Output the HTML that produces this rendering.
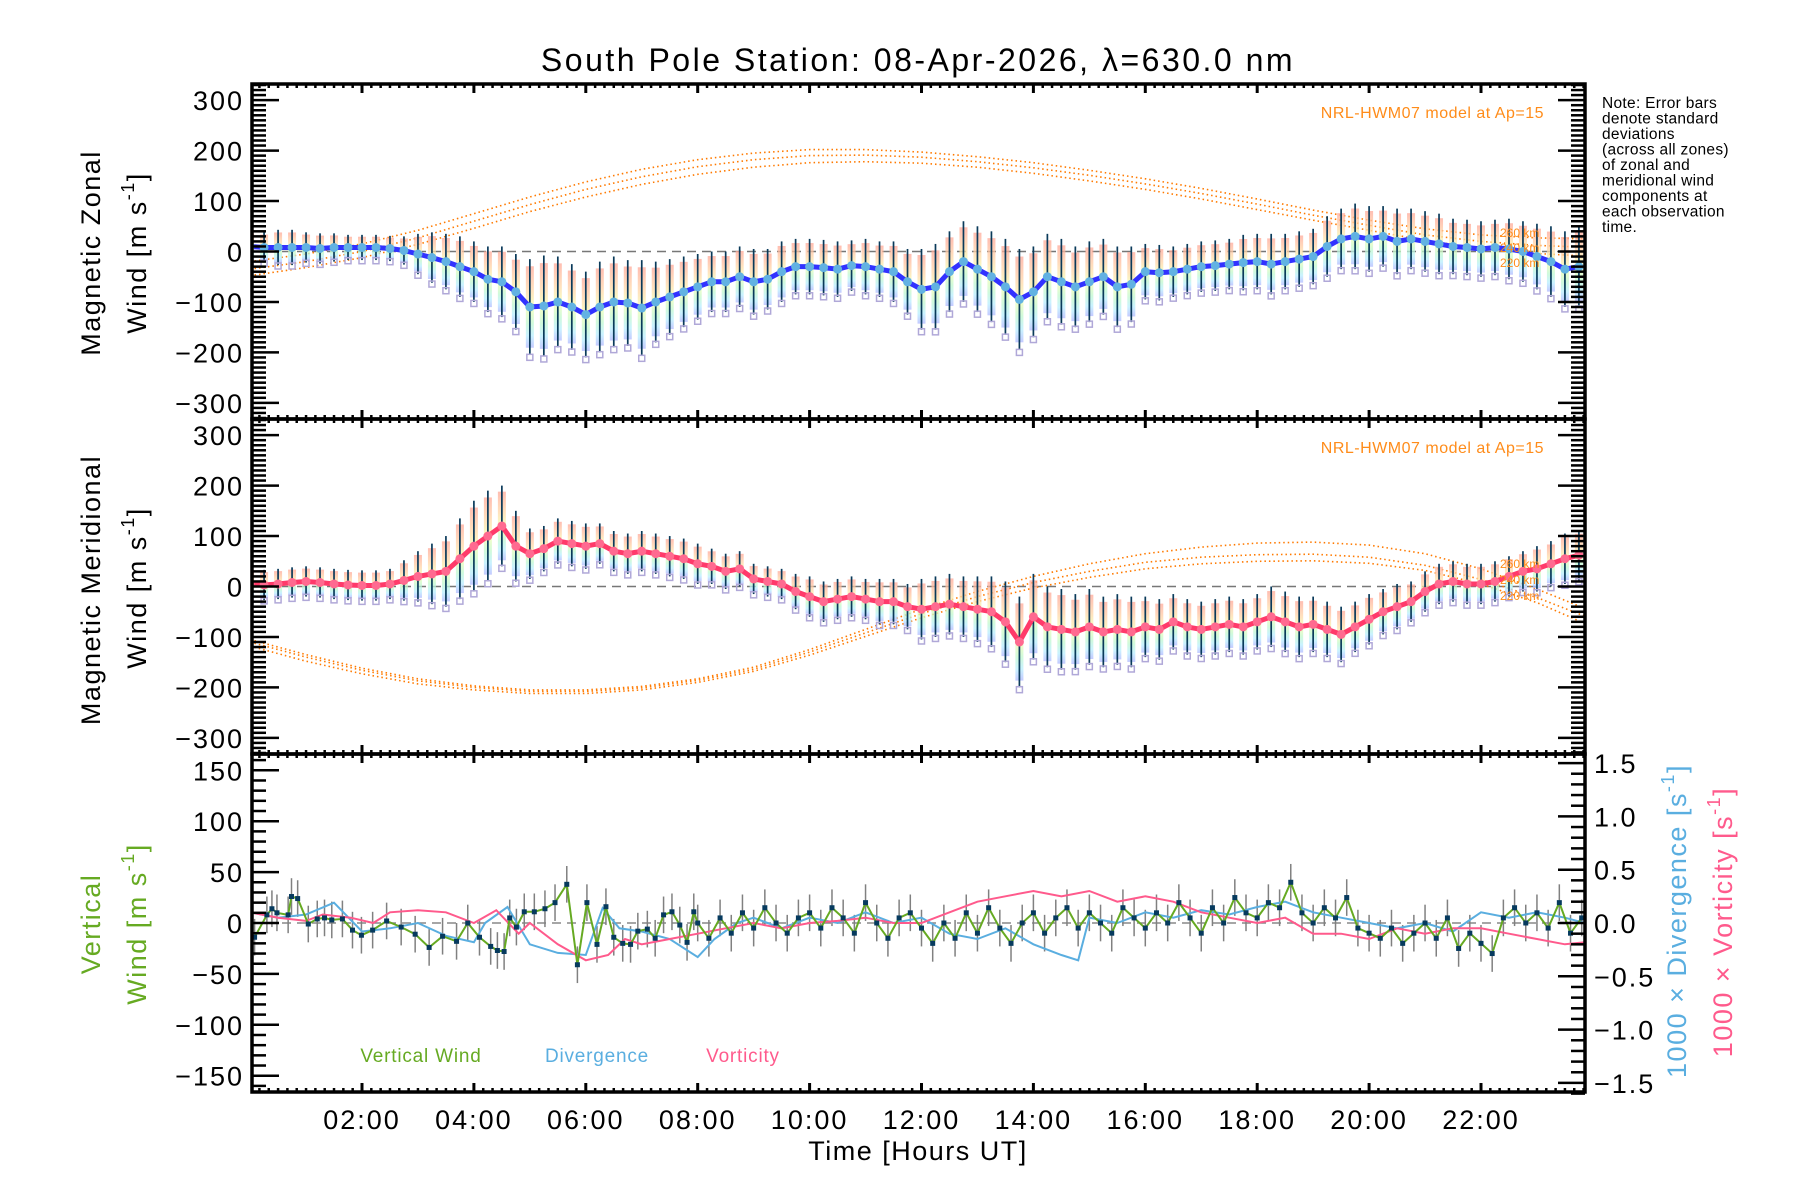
<!DOCTYPE html>
<html><head><meta charset="utf-8"><title>South Pole Station winds</title>
<style>
html,body{margin:0;padding:0;background:#fff;}
svg{display:block;font-family:"Liberation Sans",sans-serif;}
</style></head>
<body>
<svg id="chart" width="1800" height="1200" viewBox="0 0 1800 1200" xmlns="http://www.w3.org/2000/svg">
<defs>
<linearGradient id="bandZ" x1="0" y1="0" x2="0" y2="1">
<stop offset="0" stop-color="#ffa898"/><stop offset="0.3" stop-color="#ffd8a8"/><stop offset="0.5" stop-color="#f4ffb0"/><stop offset="0.7" stop-color="#c0f8d0"/><stop offset="0.85" stop-color="#b8eeff"/><stop offset="1" stop-color="#b0b8ff"/>
</linearGradient>
<clipPath id="c1"><rect x="252" y="84" width="1333" height="335"/></clipPath>
<clipPath id="c2"><rect x="252" y="419" width="1333" height="335"/></clipPath>
<clipPath id="c3"><rect x="252" y="754" width="1333" height="338"/></clipPath>
</defs>
<text x="918" y="71" font-size="32" letter-spacing="2.5" text-anchor="middle">South Pole Station: 08-Apr-2026, λ=630.0 nm</text>
<g id="p1" clip-path="url(#c1)"></g>
<g id="p2" clip-path="url(#c2)"></g>
<g id="p3" clip-path="url(#c3)"></g>
<g id="axes"></g>
<g font-size="27" letter-spacing="1.5" text-anchor="middle">
<text transform="translate(100,253) rotate(-90)">Magnetic Zonal</text>
<text transform="translate(146,253) rotate(-90)">Wind [m s<tspan font-size="18" dy="-12">-1</tspan><tspan dy="12">]</tspan></text>
<text transform="translate(100,590) rotate(-90)">Magnetic Meridional</text>
<text transform="translate(146,588) rotate(-90)">Wind [m s<tspan font-size="18" dy="-12">-1</tspan><tspan dy="12">]</tspan></text>
<text transform="translate(100,924) rotate(-90)" fill="#66aa22">Vertical</text>
<text transform="translate(146,924) rotate(-90)" fill="#66aa22">Wind [m s<tspan font-size="18" dy="-12">-1</tspan><tspan dy="12">]</tspan></text>
<text transform="translate(1686,921) rotate(-90)" fill="#5aaee0">1000 × Divergence [s<tspan font-size="18" dy="-12">-1</tspan><tspan dy="12">]</tspan></text>
<text transform="translate(1732,922) rotate(-90)" fill="#ff5a8c">1000 × Vorticity [s<tspan font-size="18" dy="-12">-1</tspan><tspan dy="12">]</tspan></text>
<text x="918" y="1160">Time [Hours UT]</text>
</g>
<text x="1544" y="118" font-size="16" letter-spacing="0.5" text-anchor="end" fill="#ff8c1a">NRL-HWM07 model at Ap=15</text>
<text x="1544" y="453" font-size="16" letter-spacing="0.5" text-anchor="end" fill="#ff8c1a">NRL-HWM07 model at Ap=15</text>
<g font-size="12" fill="#ff8c1a">
<text x="1500" y="237">260 km</text><text x="1500" y="252">240 km</text><text x="1500" y="267">220 km</text>
<text x="1500" y="568">260 km</text><text x="1500" y="584">240 km</text><text x="1500" y="600">220 km</text>
</g>
<g font-size="15.5" letter-spacing="0.3">
<text x="1602" y="108">Note: Error bars</text><text x="1602" y="123.5">denote standard</text><text x="1602" y="139">deviations</text><text x="1602" y="154.5">(across all zones)</text><text x="1602" y="170">of zonal and</text><text x="1602" y="185.5">meridional wind</text><text x="1602" y="201">components at</text><text x="1602" y="216.5">each observation</text><text x="1602" y="232">time.</text>
</g>
<text x="421" y="1062" font-size="19" letter-spacing="0.8" text-anchor="middle" fill="#66aa22">Vertical Wind</text>
<text x="597" y="1062" font-size="19" letter-spacing="0.8" text-anchor="middle" fill="#5aaee0">Divergence</text>
<text x="743" y="1062" font-size="19" letter-spacing="0.8" text-anchor="middle" fill="#ff5a8c">Vorticity</text>
</svg>
<script>
// ---- data ----
const zonalWind = [10,8,8,8,8,6,8,8,8,8,6,2,-5,-12,-20,-30,-40,-55,-60,-80,-110,-108,-100,-110,-125,-110,-100,-102,-112,-100,-90,-80,-70,-60,-60,-50,-60,-55,-40,-30,-30,-32,-35,-28,-30,-35,-40,-60,-75,-70,-40,-20,-35,-50,-70,-95,-80,-50,-60,-70,-60,-50,-70,-65,-40,-42,-40,-35,-30,-28,-25,-22,-20,-25,-20,-15,-10,10,25,30,25,30,20,25,20,15,10,8,5,8,5,0,-10,-20,-35,-30];
const zonalSd = [30,30,35,35,30,30,28,25,25,25,25,28,40,50,55,60,60,65,70,75,95,100,90,85,85,90,90,85,95,80,75,70,65,60,60,60,65,60,60,55,55,55,55,50,55,55,60,65,80,85,80,80,85,90,95,100,90,85,85,80,80,75,80,75,55,55,50,50,50,50,50,55,55,60,55,55,55,60,60,65,65,60,65,60,60,60,55,55,55,55,60,60,65,70,75,80];
const meridWind = [5,3,5,8,10,8,5,3,2,2,5,12,20,25,30,55,80,100,120,80,65,75,90,85,80,85,70,65,70,65,60,55,45,40,30,35,15,10,5,-10,-20,-30,-25,-20,-25,-30,-30,-40,-45,-40,-35,-40,-45,-50,-70,-110,-60,-80,-85,-90,-80,-90,-85,-90,-80,-85,-70,-80,-85,-80,-75,-80,-70,-60,-70,-80,-75,-85,-95,-80,-65,-50,-40,-30,-10,5,10,5,5,10,20,30,35,45,55,62];
const meridSd = [30,30,30,30,30,30,30,30,30,30,30,40,50,60,70,80,90,90,80,70,50,45,45,45,45,40,40,40,40,40,40,40,40,35,35,35,30,30,30,35,40,40,40,40,40,45,45,45,60,60,60,60,65,70,80,90,85,80,80,75,75,70,70,70,60,60,55,55,55,55,55,55,55,60,60,60,55,55,55,50,50,45,45,40,40,40,40,40,40,40,40,40,45,45,50,50];
const modelHours = [0,1,2,3,4,5,6,7,8,9,10,11,12,13,14,15,16,17,18,19,20,21,22,23,24];
const modelZ260 = [-20,-5,15,42,75,108,138,163,182,195,202,202,197,188,176,161,144,125,104,82,62,45,33,27,25];
const modelZ240 = [-35,-20,0,27,60,93,123,148,168,182,190,191,187,178,166,151,134,115,94,72,52,33,20,12,8];
const modelZ220 = [-48,-32,-12,14,46,79,108,133,153,167,176,178,175,167,155,140,123,104,83,62,42,22,6,-4,-10];
const modelM260 = [-105,-135,-162,-183,-197,-205,-205,-198,-183,-160,-125,-85,-45,-10,20,45,65,78,86,88,82,65,35,-5,-50];
const modelM240 = [-110,-140,-166,-187,-200,-208,-208,-201,-186,-164,-130,-92,-54,-20,8,30,48,58,63,64,58,42,14,-22,-65];
const modelM220 = [-118,-148,-173,-193,-205,-212,-212,-205,-190,-168,-136,-99,-62,-30,-3,18,35,45,50,51,46,32,5,-32,-80];
const vertTimesEarly = [0.08,0.3,0.39,0.48,0.68,0.74,0.85,1.04,1.2,1.33,1.46,1.65,1.83,1.99,2.19,2.44,2.7,2.95,3.2,3.44,3.69,3.89,4.1,4.3,4.42,4.54,4.64,4.76,4.9,5.08,5.27,5.45,5.66,5.85,6.02,6.2,6.36,6.5,6.66,6.8,6.93,7.1,7.24,7.39,7.54,7.68,7.81,7.93];
const vertWindEarly = [-14,8,14,10,8,26,24,-1,4,5,3,4,-7,-12,-7,2,-4,-11,-24,-13,-18,0,-14,-23,-27,-28,5,-4,11,11,14,20,38,-41,20,-21,16,-14,-20,-21,-8,-6,-15,8,11,-2,-19,11];
const vertWindLate = [0,-15,5,-10,10,-5,15,0,-10,5,10,-5,15,5,-10,20,0,-15,5,10,-5,-20,0,-15,10,-10,15,-5,-20,0,10,-10,5,15,-5,10,0,-10,15,5,-5,10,0,20,5,-10,15,0,25,10,5,20,15,40,10,0,15,5,25,-5,-10,-15,-5,-20,-10,0,-15,5,-25,-10,-20,-30,5,15,0,10,-5,20,-10,5];
const divTimes = [0,0.5,1,1.5,2,2.5,3,3.5,4,4.2,4.6,5,5.5,6,6.3,6.6,7,7.5,8,8.3,8.7,9,9.5,10,10.5,11,11.5,12,12.5,13,13.5,14,14.5,14.8,15,15.5,16,16.5,17,17.5,18,18.5,19,19.5,20,20.5,21,21.5,22,22.5,23,23.5,23.86];
const divValues = [0.1,0.05,0.08,0.19,-0.08,-0.05,0,-0.12,-0.18,0,0.15,-0.2,-0.28,-0.3,0.14,-0.05,-0.08,-0.15,-0.32,-0.15,0,0.05,-0.05,0.05,0,0.1,0,0.05,-0.1,-0.15,-0.05,-0.2,-0.3,-0.35,0.05,0,0.1,0.05,0.12,0.08,0.15,0.2,0.1,0.05,0,-0.05,0,-0.08,0.1,0.05,0.1,0.05,0];
const vortTimes = [0,0.5,1,1.3,1.8,2.2,2.5,3,3.5,4,4.4,4.8,5,5.5,6,6.4,6.7,7,7.5,8,8.5,9,9.5,10,10.5,11,11.5,12,12.5,13,13.5,14,14.5,15,15.5,16,16.5,17,17.5,18,18.5,19,19.5,20,20.5,21,21.5,22,22.5,23,23.5,23.86];
const vortValues = [0.1,0.05,0.02,0.08,0.05,0,0.1,0.12,0.1,0,0.12,-0.1,0,-0.2,-0.35,-0.3,-0.15,-0.2,-0.15,-0.1,-0.05,0,-0.05,0,0.02,0.05,0,0,0.1,0.2,0.25,0.3,0.25,0.3,0.2,0.25,0.2,0.1,0.05,0,0.05,-0.1,-0.1,-0.15,-0.05,-0.1,-0.05,-0.05,-0.1,-0.15,-0.2,-0.18];
const xTickLabels = ["02:00","04:00","06:00","08:00","10:00","12:00","14:00","16:00","18:00","20:00","22:00"];
const xTickHours = [2,4,6,8,10,12,14,16,18,20,22];
const windTicks = [300,200,100,0,-100,-200,-300];
const vertTicks = [150,100,50,0,-50,-100,-150];
const rightTicks = ["1.5","1.0","0.5","0.0","−0.5","−1.0","−1.5"];
const rightTickVals = [1.5,1,0.5,0,-0.5,-1,-1.5];

// ---- scales ----
const L=252,R=1585,T0=0.034,PPH=55.95;
const X=t=>L+(t-T0)*PPH;
const panels=[{top:84,bot:419,dom:332},{top:419,bot:754,dom:332},{top:754,bot:1092,dom:166}];
const Y=(p,v)=>{const P=panels[p];const m=(P.top+P.bot)/2;return m-v*(P.bot-P.top)/(2*P.dom);};
const YR=v=>923-v*169/1.585;
const NS="http://www.w3.org/2000/svg";
function mk(tag,attrs,parent){const e=document.createElementNS(NS,tag);for(const k in attrs)e.setAttribute(k,attrs[k]);parent.appendChild(e);return e;}
const qTime=i=>i*0.25;

function windPanel(p,g,vals,sds,lineCol,dotCol,models){
  const z=mk('line',{x1:L,x2:R,y1:Y(p,0),y2:Y(p,0),stroke:'#777','stroke-width':1.5,'stroke-dasharray':'9,6'},g);
  
  
  models.forEach(m=>{
    const d=m.map((v,i)=>(i?'L':'M')+X(modelHours[i]).toFixed(1)+','+Y(p,v).toFixed(1)).join('');
    const pl=mk('path',{d:d,fill:'none',stroke:'#ff7a00','stroke-width':1.6,'stroke-dasharray':'1.5,3'},g);
    
    
  });
  vals.forEach((v,i)=>{
    const x=X(qTime(i)),s=sds[i];
    const b=mk('rect',{x:x-4,y:Y(p,v+s*0.85),width:8,height:Y(p,v-s*0.85)-Y(p,v+s*0.85),fill:'url(#bandZ)',opacity:0.75},g);
    
    
  });
  vals.forEach((v,i)=>{
    const x=X(qTime(i)),s=sds[i];
    const e=mk('line',{x1:x,x2:x,y1:Y(p,v+s),y2:Y(p,v-s),stroke:'#0a3a5a','stroke-width':1.7},g);
    
    
    const o=mk('rect',{x:x-3,y:Y(p,v-s*1.05)-3,width:6,height:6,fill:'none',stroke:'#b0a8d8','stroke-width':1.5},g);
    
    
  });
  const d=vals.map((v,i)=>(i?'L':'M')+X(qTime(i)).toFixed(1)+','+Y(p,v).toFixed(1)).join('');
  const ln=mk('path',{d:d,fill:'none',stroke:lineCol,'stroke-width':5,'stroke-linejoin':'round'},g);
  
  
  vals.forEach((v,i)=>{
    const c=mk('circle',{cx:X(qTime(i)),cy:Y(p,v),r:4.5,fill:dotCol},g);
    
    
  });
}
windPanel(0,document.getElementById('p1'),zonalWind,zonalSd,'#3232ff','#62b2e2',[modelZ260,modelZ240,modelZ220]);
windPanel(1,document.getElementById('p2'),meridWind,meridSd,'#ff3a6a','#ff6a90',[modelM260,modelM240,modelM220]);

const g3=document.getElementById('p3');
const zl=mk('line',{x1:L,x2:R,y1:Y(2,0),y2:Y(2,0),stroke:'#888','stroke-width':1.5,'stroke-dasharray':'9,6'},g3);


const vT=vertTimesEarly.slice(),vW=vertWindEarly.slice();
vertWindLate.forEach((v,i)=>{vT.push(8+0.2*i);vW.push(v);});
vT.forEach((t,i)=>{
  const e=mk('line',{x1:X(t),x2:X(t),y1:Y(2,vW[i]+18),y2:Y(2,vW[i]-18),stroke:'#808080','stroke-width':1.5},g3);
  
  
});
function seriesPath(ts,vs,yf){return ts.map((t,i)=>(i?'L':'M')+X(t).toFixed(1)+','+yf(vs[i]).toFixed(1)).join('');}
const dv=mk('path',{d:seriesPath(divTimes,divValues,YR),fill:'none',stroke:'#5aaee0','stroke-width':2},g3);


const vo=mk('path',{d:seriesPath(vortTimes,vortValues,YR),fill:'none',stroke:'#ff5a8c','stroke-width':2},g3);


const vl=mk('path',{d:seriesPath(vT,vW,v=>Y(2,v)),fill:'none',stroke:'#66aa22','stroke-width':2},g3);


vT.forEach((t,i)=>{
  const s=mk('rect',{x:X(t)-2.5,y:Y(2,vW[i])-2.5,width:5,height:5,fill:'#063a5e'},g3);
  
  
});

const ax=document.getElementById('axes');
panels.forEach((P,p)=>{
  const fr=mk('rect',{x:L,y:P.top,width:R-L,height:P.bot-P.top,fill:'none',stroke:'#000','stroke-width':3.5},ax);
  
  
  for(let k=0;k<=143;k++){
    const t=k/6; if(t<T0||t>23.86) continue;
    const major=(k%12===0);const len=major?9:4;const x=X(t);
    mk('line',{x1:x,x2:x,y1:P.bot,y2:P.bot-len,stroke:'#000','stroke-width':major?3:2.5},ax);
    mk('line',{x1:x,x2:x,y1:P.top,y2:P.top+len,stroke:'#000','stroke-width':major?3:2.5},ax);
  }
  for(let vv=-Math.floor(P.dom/10)*10;vv<=P.dom;vv+=10){
    const y=Y(p,vv);const major=(p<2?vv%100===0:vv%50===0);const len=major?27:14;
    mk('line',{x1:L,x2:L+len,y1:y,y2:y,stroke:'#000','stroke-width':2.5},ax);
    if(p<2) mk('line',{x1:R,x2:R-len,y1:y,y2:y,stroke:'#000','stroke-width':2.5},ax);
  }
  const labels=p<2?windTicks:vertTicks;
  labels.forEach(v=>{
    const t=mk('text',{x:244,y:Y(p,v)+10,'font-size':27,'letter-spacing':2,'text-anchor':'end'},ax);
    t.textContent=(v<0?'−'+(-v):String(v));
    
    
  });
});
for(let k=-16;k<=16;k++){
  const v=k/10;const y=YR(v);const major=(k%5===0);
  mk('line',{x1:R,x2:R-(major?27:14),y1:y,y2:y,stroke:'#000','stroke-width':2.5},ax);
}
rightTickVals.forEach((v,i)=>{
  const t=mk('text',{x:1594,y:YR(v)+10,'font-size':27,'letter-spacing':2},ax);
  t.textContent=rightTicks[i];
  
  
});
xTickHours.forEach((h,i)=>{
  const t=mk('text',{x:X(h),y:1129,'font-size':27,'letter-spacing':2,'text-anchor':'middle'},ax);
  t.textContent=xTickLabels[i];
  
  
});
</script>
</body></html>
